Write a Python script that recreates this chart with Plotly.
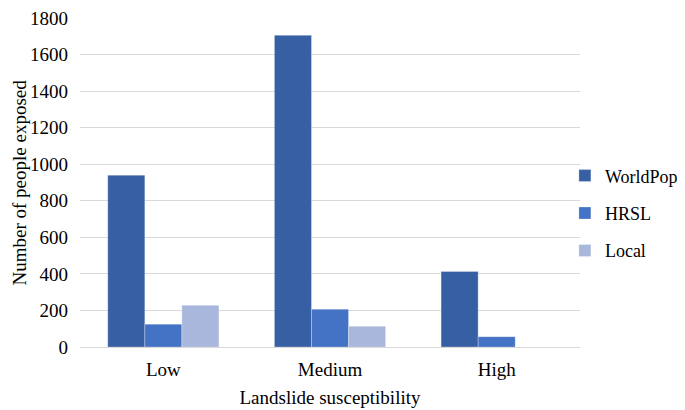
import plotly.graph_objects as go

categories = ["Low", "Medium", "High"]
worldpop = [940, 1705, 413]
hrsl = [125, 207, 56]
local = [228, 113, 0]

series_names = ["WorldPop", "HRSL", "Local"]
series_values = [worldpop, hrsl, local]
colors = ["#3760A4", "#4472C4", "#A9B7DC"]

y_ticks = [0, 200, 400, 600, 800, 1000, 1200, 1400, 1600, 1800]

font_family = "Liberation Serif, Times New Roman, serif"

fig = go.Figure()
for name, vals, col in zip(series_names, series_values, colors):
    fig.add_trace(go.Bar(
        x=categories, y=vals, name=name, legendgroup=name,
        marker=dict(color=col, line=dict(color="rgba(255,255,255,0.35)", width=0.8)),
    ))

fig.update_layout(
    width=677, height=402,
    margin=dict(l=72, r=105, t=10, b=63, autoexpand=False),
    plot_bgcolor="white", paper_bgcolor="white",
    barmode="group", bargap=0.333, bargroupgap=0,
    font=dict(family=font_family, size=19, color="#000000"),
    xaxis=dict(
        title=dict(text="Landslide susceptibility", font=dict(family=font_family, size=19), standoff=11),
        showgrid=False, showline=False, ticks="", tickfont=dict(family=font_family, size=19),
        automargin=False, ticklabelstandoff=9,
    ),
    yaxis=dict(
        range=[0, 1800], tickvals=y_ticks, showgrid=True, gridcolor="#D9D9D9",
        gridwidth=1, zeroline=True, zerolinecolor="#D9D9D9", zerolinewidth=1,
        showline=False, ticks="", tickfont=dict(family=font_family, size=19), automargin=False,
        ticklabelstandoff=11, ticklabeloverflow="allow",
    ),
    legend=dict(
        xref="container", yref="container",
        x=0.8226, y=0.489, xanchor="left", yanchor="middle",
        font=dict(family=font_family, size=18), tracegroupgap=11, itemwidth=30,
        bgcolor="rgba(0,0,0,0)",
    ),
    annotations=[dict(
        text="Number of people exposed", xref="paper", yref="paper",
        x=0, y=0.5, xanchor="center", yanchor="middle", xshift=-61,
        textangle=-90, showarrow=False, font=dict(family=font_family, size=19),
    )],
)

fig.write_html("out.html")
